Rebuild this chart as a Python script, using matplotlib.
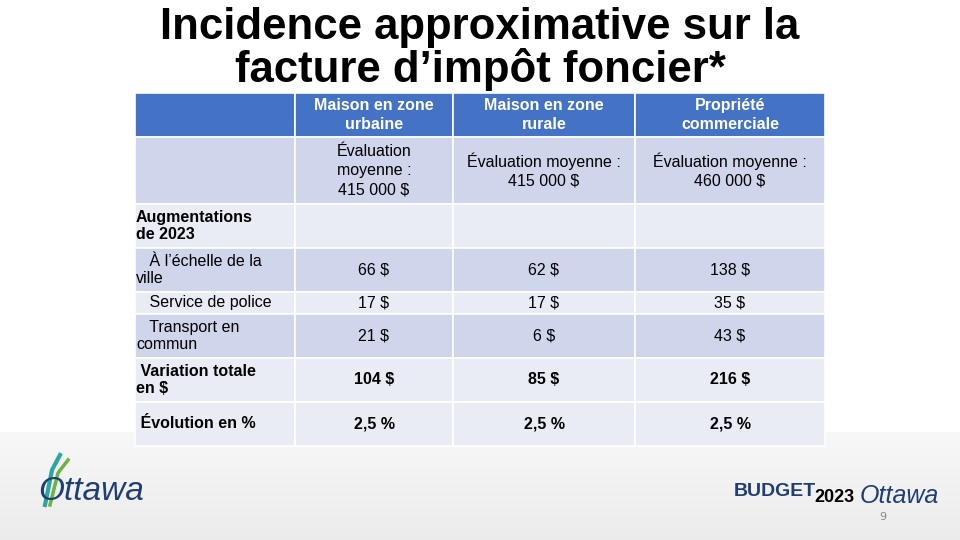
import matplotlib
matplotlib.use("Agg")
import matplotlib.pyplot as plt
from matplotlib.patches import Rectangle

title = "Incidence approximative sur la\nfacture d’impôt foncier*"
headers = ["", "Maison en zone\nurbaine", "Maison en zone\nrurale", "Propriété\ncommerciale"]
row_labels = ["", "Augmentations\nde 2023", "   À l’échelle de la\nville", "   Service de police",
              "   Transport en\ncommun", " Variation totale\nen $", " Évolution en %"]
urbaine = ["Évaluation\nmoyenne :\n415 000 $", "", "66 $", "17 $", "21 $", "104 $", "2,5 %"]
rurale = ["Évaluation moyenne :\n415 000 $", "", "62 $", "17 $", "6 $", "85 $", "2,5 %"]
commerciale = ["Évaluation moyenne :\n460 000 $", "", "138 $", "35 $", "43 $", "216 $", "2,5 %"]
bold_rows = [False, True, False, False, False, True, True]

col_x = [135, 295, 453, 635, 825]
row_y = [93, 137, 204, 248, 292, 314, 358, 402, 446]
fills = ["#CFD5EA", "#E9EBF5", "#CFD5EA", "#E9EBF5", "#CFD5EA", "#E9EBF5", "#E9EBF5"]

fig = plt.figure(figsize=(9.6, 5.4), dpi=100)
ax = fig.add_axes([0, 0, 1, 1])
ax.set_xlim(0, 960); ax.set_ylim(540, 0); ax.axis("off")

for i in range(40):
    y0 = 432 + i * 2.7
    c = 0.97 - 0.05 * i / 40
    ax.add_patch(Rectangle((0, y0), 960, 2.8, color=(c, c, c), lw=0))

ax.text(480, 49, title, ha="center", va="center", fontsize=31.5, fontweight="bold",
        family="Liberation Sans", linespacing=1.0)

cols = [row_labels, urbaine, rurale, commerciale]
for j in range(4):
    x0, x1 = col_x[j], col_x[j + 1]
    ax.add_patch(Rectangle((x0, row_y[0]), x1 - x0, row_y[1] - row_y[0], fc="#4472C4", ec="white", lw=1.2))
    ax.text((x0 + x1) / 2, (row_y[0] + row_y[1]) / 2, headers[j], ha="center", va="center",
            color="white", fontsize=11.5, fontweight="bold", family="Liberation Sans",
            linespacing=1.35)
    for i in range(7):
        y0, y1 = row_y[i + 1], row_y[i + 2]
        ax.add_patch(Rectangle((x0, y0), x1 - x0, y1 - y0, fc=fills[i], ec="white", lw=1.2))
        txt = cols[j][i]
        if j == 0:
            ax.text(x0 + 1, (y0 + y1) / 2, txt, ha="left", va="center", fontsize=11.5,
                    fontweight="bold" if bold_rows[i] else "normal", family="Liberation Sans",
                    linespacing=1.2)
        else:
            ax.text((x0 + x1) / 2, (y0 + y1) / 2, txt, ha="center", va="center", fontsize=11.5,
                    fontweight="bold" if bold_rows[i] else "normal", family="Liberation Sans",
                    linespacing=1.35)

ax.text(38, 492, "Ottawa", fontsize=24, color="#1F3F73", family="Liberation Sans", va="center",
        style="italic")
ax.plot([45, 52, 60], [505, 470, 455], color="#2BA6A0", lw=3)
ax.plot([50, 58, 68], [505, 473, 460], color="#6CB33F", lw=2.5)
ax.text(734, 492, "BUDGET", fontsize=14, fontweight="bold", color="#1F3F73",
        family="Liberation Sans", va="center")
ax.text(814, 497, "2023", fontsize=13, fontweight="bold", color="black",
        family="Liberation Sans", va="center")
ax.text(860, 496, "Ottawa", fontsize=18, color="#1F3F73", family="Liberation Sans",
        va="center", style="italic")
ax.text(883, 517, "9", fontsize=8, color="#888888", ha="center", va="center")

fig.savefig("out.png", dpi=100)
